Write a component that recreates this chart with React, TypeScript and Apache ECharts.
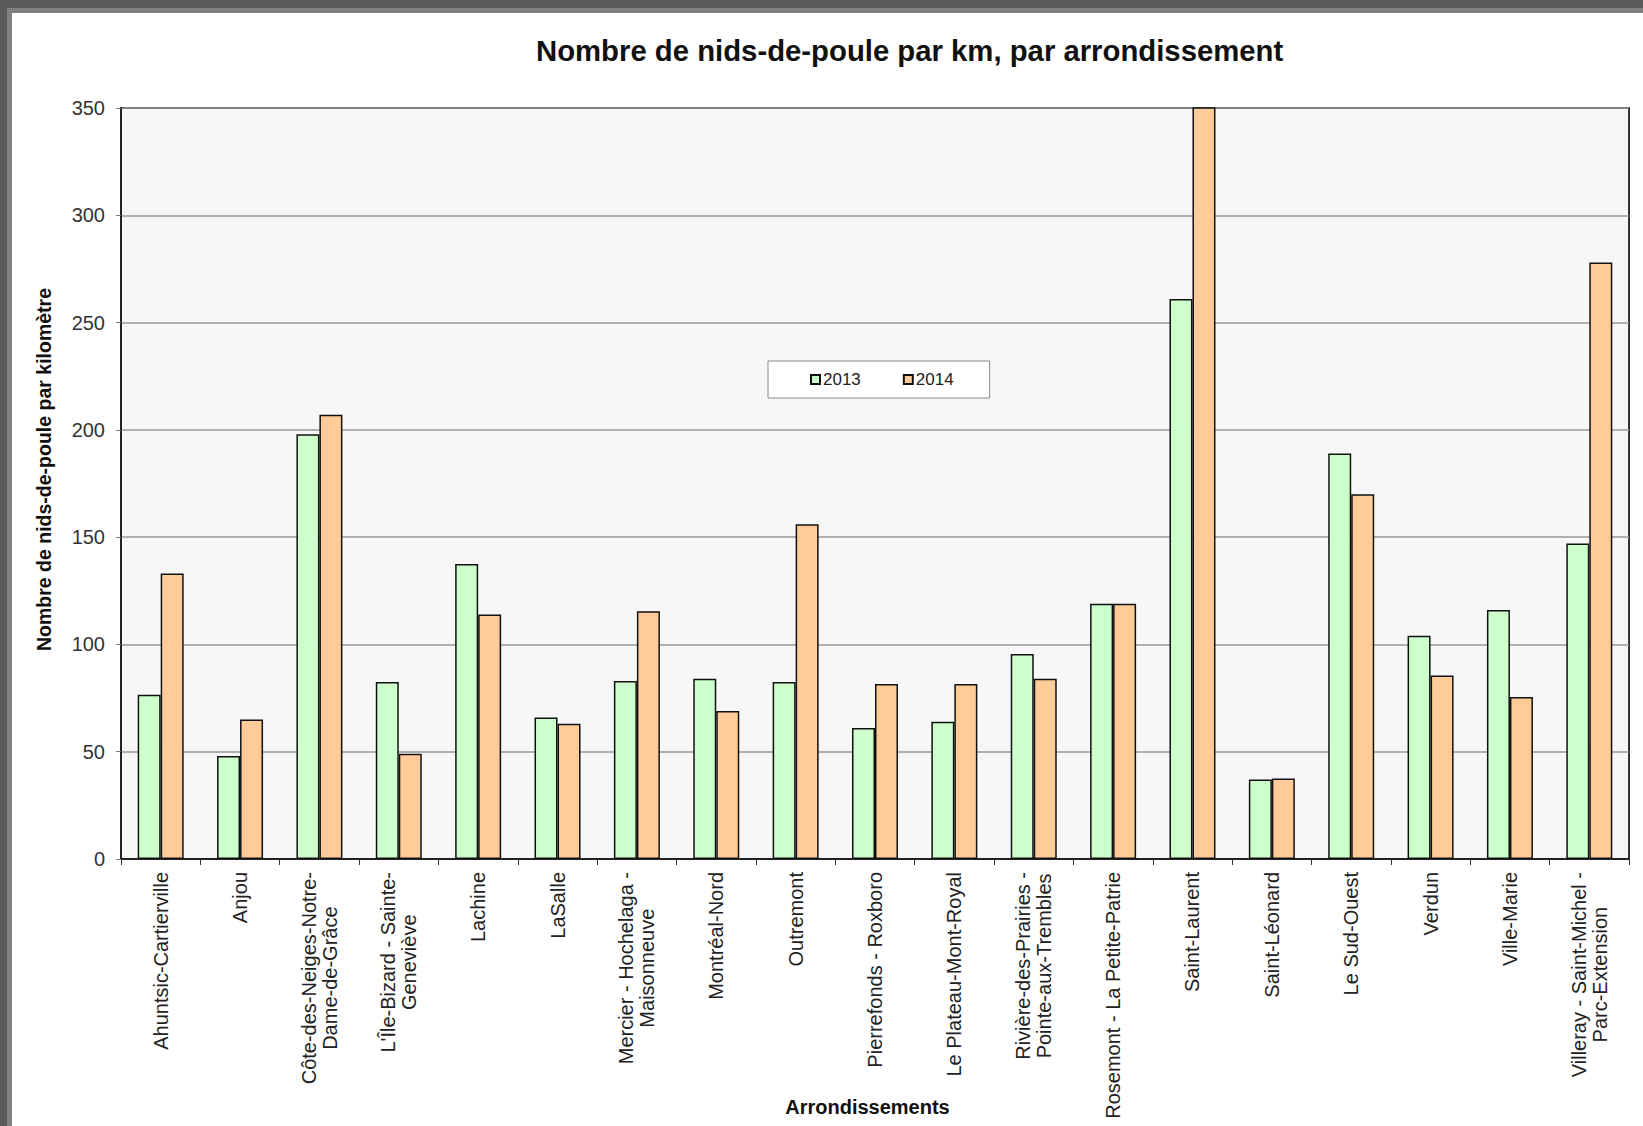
import React, { useEffect, useRef } from "react";
import * as echarts from "echarts";

const categories: string[] = [
  "Ahuntsic-Cartierville",
  "Anjou",
  "Côte-des-Neiges-Notre-\nDame-de-Grâce",
  "L'Île-Bizard - Sainte-\nGeneviève",
  "Lachine",
  "LaSalle",
  "Mercier - Hochelaga -\nMaisonneuve",
  "Montréal-Nord",
  "Outremont",
  "Pierrefonds - Roxboro",
  "Le Plateau-Mont-Royal",
  "Rivière-des-Prairies -\nPointe-aux-Trembles",
  "Rosemont - La Petite-Patrie",
  "Saint-Laurent",
  "Saint-Léonard",
  "Le Sud-Ouest",
  "Verdun",
  "Ville-Marie",
  "Villeray - Saint-Michel -\nParc-Extension",
];

const values2013: number[] = [76.5, 48, 198, 82.5, 137.5, 66, 83, 84, 82.5, 61, 64, 95.5, 119, 261, 37, 189, 104, 116, 147];
const values2014: number[] = [133, 65, 207, 49, 114, 63, 115.5, 69, 156, 81.5, 81.5, 84, 119, 380, 37.5, 170, 85.5, 75.5, 278];

const seriesNames: string[] = ["2013", "2014"];
const yTicks = { min: 0, max: 350, interval: 50 };

const title = "Nombre de nids-de-poule par km, par arrondissement";
const yName = "Nombre de nids-de-poule par kilomètre";
const xName = "Arrondissements";

const W = 1643;
const H = 1126;

export default function App() {
  const ref = useRef<HTMLDivElement>(null);
  useEffect(() => {
    if (!ref.current) return;
    const chart = echarts.init(ref.current, undefined, { renderer: "svg" });
    const font = "'Liberation Sans', Arial, sans-serif";
    chart.setOption({
      animation: false,
      backgroundColor: "#5a5a5a",
      textStyle: { fontFamily: font },
      graphic: [
        { type: "rect", z: -10, shape: { x: 7, y: 8, width: W, height: H }, style: { fill: "#808080" } },
        { type: "rect", z: -9, shape: { x: 12, y: 13, width: W, height: H }, style: { fill: "#ffffff" } },
      ],
      title: {
        text: title,
        left: 536,
        top: 36,
        padding: 0,
        textStyle: { fontFamily: font, fontSize: 29.3, fontWeight: "bold", color: "#111" },
      },
      legend: {
        data: seriesNames,
        left: 768,
        top: 361,
        orient: "horizontal",
        backgroundColor: "#ffffff",
        borderColor: "#888",
        borderWidth: 1,
        padding: [10, 36, 10, 42],
        itemGap: 42,
        itemWidth: 9,
        itemHeight: 9,
        icon: "rect",
        textStyle: { fontFamily: font, fontSize: 17, color: "#222", padding: [0, 0, 0, -2] },
      },
      grid: {
        left: 121,
        top: 108,
        right: 14,
        bottom: 267,
        show: true,
        backgroundColor: "#f7f7f7",
        borderColor: "#333",
        borderWidth: 2,
        containLabel: false,
        outerBoundsMode: "none",
      },
      xAxis: {
        type: "category",
        data: categories,
        name: xName,
        nameLocation: "middle",
        nameGap: 238,
        nameMoveOverlap: false,
        nameTextStyle: { fontFamily: font, fontSize: 20, fontWeight: "bold", color: "#111", padding: [0, 15, 0, 0] },
        axisLine: { show: true, lineStyle: { color: "#222", width: 2 } },
        axisTick: { show: true, length: 6, interval: 0, lineStyle: { color: "#333" } },
        axisLabel: {
          interval: 0,
          rotate: 90,
          margin: 13,
          fontFamily: font,
          fontSize: 20,
          color: "#222",
          lineHeight: 21,
          formatter: (v: string) => v.split("\n").map((l) => `{c|${l}}`).join("\n"),
          rich: { c: { align: "center", fontFamily: font, fontSize: 20, color: "#222", lineHeight: 21 } },
        },
      },
      yAxis: {
        type: "value",
        min: yTicks.min,
        max: yTicks.max,
        interval: yTicks.interval,
        name: yName,
        nameLocation: "middle",
        nameGap: 67,
        nameMoveOverlap: false,
        nameTextStyle: { fontFamily: font, fontSize: 19.5, fontWeight: "bold", color: "#111", padding: [0, 0, 0, 28] },
        axisLine: { show: true, lineStyle: { color: "#222", width: 2 } },
        axisTick: { show: true, length: 5, lineStyle: { color: "#777" } },
        axisLabel: { fontFamily: font, fontSize: 20, color: "#333", margin: 16 },
        splitLine: { show: true, lineStyle: { color: "#999", width: 1.5 } },
      },
      series: [
        {
          name: seriesNames[0],
          type: "bar",
          data: values2013,
          barWidth: 23,
          barGap: "0%",
          clip: true,
          itemStyle: { color: "#ccffcc", borderColor: "#111", borderWidth: 1.5 },
        },
        {
          name: seriesNames[1],
          type: "bar",
          data: values2014,
          barWidth: 23,
          barGap: "0%",
          clip: true,
          itemStyle: { color: "#ffcc99", borderColor: "#111", borderWidth: 1.5 },
        },
      ],
    });
    return () => chart.dispose();
  }, []);
  return (
    <div style={{ position: "fixed", left: 0, top: 0, width: W, height: H, margin: 0 }}>
      <div ref={ref} style={{ width: W, height: H }} />
    </div>
  );
}
